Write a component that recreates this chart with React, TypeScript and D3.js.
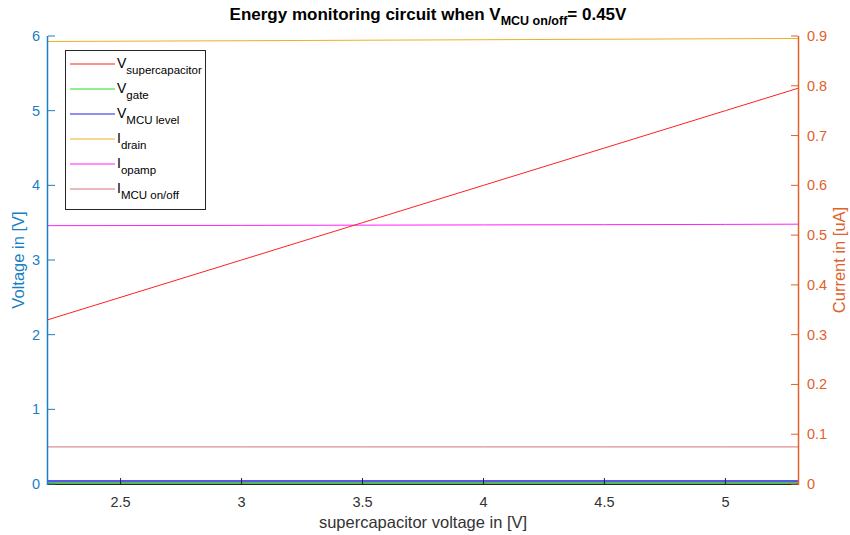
import * as d3 from "d3";

// supercapacitor voltage samples [V]
const xs = [2.2, 3, 3.5, 4, 4.5, 5, 5.3];

// voltages (left axis) [V]
const vSupercap = [2.2, 3, 3.5, 4, 4.5, 5, 5.3];
const vGate = [0.015, 0.015, 0.015, 0.015, 0.015, 0.015, 0.015];
const vMcuLevel = [0.04, 0.04, 0.04, 0.04, 0.04, 0.04, 0.04];

// currents (right axis) [uA]
const iDrain = [0.889, 0.8905, 0.8915, 0.8925, 0.8935, 0.8945, 0.895];
const iOpamp = [0.519, 0.5195, 0.52, 0.5205, 0.521, 0.5215, 0.522];
const iMcuOnOff = [0.0745, 0.0745, 0.0745, 0.0745, 0.0745, 0.0745, 0.0745];

const xTicks = [2.5, 3, 3.5, 4, 4.5, 5];
const yLeftTicks = [0, 1, 2, 3, 4, 5, 6];
const yRightTicks = [0, 0.1, 0.2, 0.3, 0.4, 0.5, 0.6, 0.7, 0.8, 0.9];

const legendItems = [
  { main: "V", sub: "supercapacitor", color: "#ff2020" },
  { main: "V", sub: "gate", color: "#20e020" },
  { main: "V", sub: "MCU level", color: "#2020e8" },
  { main: "I", sub: "drain", color: "#edb120" },
  { main: "I", sub: "opamp", color: "#ff20ff" },
  { main: "I", sub: "MCU on/off", color: "#d87474" },
];

const App = () => {
  const width = 850,
    height = 535,
    marginLeft = 48,
    marginRight = 52,
    marginTop = 36,
    marginBottom = 51;

  const leftColor = "#1a7fc4";
  const rightColor = "#e0622a";
  const font = "'Liberation Sans', Arial, sans-serif";

  const x = d3.scaleLinear([2.2, 5.3], [marginLeft, width - marginRight]);
  const yL = d3.scaleLinear([0, 6], [height - marginBottom, marginTop]);
  const yR = d3.scaleLinear([0, 0.9], [height - marginBottom, marginTop]);

  const lineL = d3.line<number>((d, i) => x(xs[i]), (d) => yL(d));
  const lineR = d3.line<number>((d, i) => x(xs[i]), (d) => yR(d));

  const x0 = marginLeft,
    x1 = width - marginRight,
    yb = height - marginBottom,
    yt = marginTop;

  return (
    <svg
      width={width}
      height={height}
      style={{ position: "absolute", left: 0, top: 0, background: "#fff" }}
      fontFamily={font}
    >
      {/* title */}
      <text x={428} y={20} textAnchor="middle" fontSize={17} fontWeight="bold" fill="#000">
        Energy monitoring circuit when V
        <tspan fontSize={12.5} dy={5}>MCU on/off</tspan>
        <tspan dy={-5}>= 0.45V</tspan>
      </text>

      {/* data lines */}
      <g fill="none" strokeWidth={1}>
        <path d={lineR(iDrain)!} stroke="#edb120" />
        <path d={lineR(iOpamp)!} stroke="#ff20ff" />
        <path d={lineR(iMcuOnOff)!} stroke="#d87474" />
        <path d={lineL(vSupercap)!} stroke="#ff2020" />
        <path d={lineL(vGate)!} stroke="#20a020" strokeWidth={1.5} />
        <path d={lineL(vMcuLevel)!} stroke="#2020e8" strokeWidth={1.5} />
      </g>

      {/* bottom axis */}
      <line x1={x0} x2={x1} y1={yb + 0.5} y2={yb + 0.5} stroke="#262626" />
      {xTicks.map((t) => (
        <g key={t}>
          <line x1={x(t)} x2={x(t)} y1={yb} y2={yb - 6} stroke="#262626" />
          <text x={x(t)} y={yb + 23} textAnchor="middle" fontSize={14.5} fill="#333">
            {t}
          </text>
        </g>
      ))}
      <text x={(x0 + x1) / 2} y={528} textAnchor="middle" fontSize={16.5} fill="#333">
        supercapacitor voltage in [V]
      </text>

      {/* left axis */}
      <line x1={x0 - 0.5} x2={x0 - 0.5} y1={yt} y2={yb + 1} stroke={leftColor} strokeWidth={1.5} />
      {yLeftTicks.map((t) => (
        <g key={t}>
          <line x1={x0} x2={x0 + 7} y1={yL(t)} y2={yL(t)} stroke={leftColor} />
          <text x={x0 - 8} y={yL(t) + 5} textAnchor="end" fontSize={14.5} fill={leftColor}>
            {t}
          </text>
        </g>
      ))}
      <text
        transform={`translate(24, ${(yt + yb) / 2}) rotate(-90)`}
        textAnchor="middle"
        fontSize={16.5}
        fill={leftColor}
      >
        Voltage in [V]
      </text>

      {/* right axis */}
      <line x1={x1 + 0.5} x2={x1 + 0.5} y1={yt} y2={yb + 1} stroke={rightColor} strokeWidth={1.5} />
      {yRightTicks.map((t) => (
        <g key={t}>
          <line x1={x1} x2={x1 - 7} y1={yR(t)} y2={yR(t)} stroke={rightColor} />
          <text x={x1 + 9} y={yR(t) + 5} textAnchor="start" fontSize={14.5} fill={rightColor}>
            {t}
          </text>
        </g>
      ))}
      <text
        transform={`translate(845, ${(yt + yb) / 2}) rotate(-90)`}
        textAnchor="middle"
        fontSize={16.5}
        fill={rightColor}
      >
        Current in [uA]
      </text>

      {/* legend */}
      <rect x={65.5} y={50.5} width={140} height={159} fill="#fff" stroke="#262626" />
      {legendItems.map((d, i) => {
        const ly = 64 + i * 25;
        return (
          <g key={i}>
            <line x1={70} x2={115} y1={ly} y2={ly} stroke={d.color} />
            <text x={117} y={ly + 4} fontSize={14} fill="#000">
              {d.main}
              <tspan fontSize={11.5} dy={6}>
                {d.sub}
              </tspan>
            </text>
          </g>
        );
      })}
    </svg>
  );
};

export default App;
